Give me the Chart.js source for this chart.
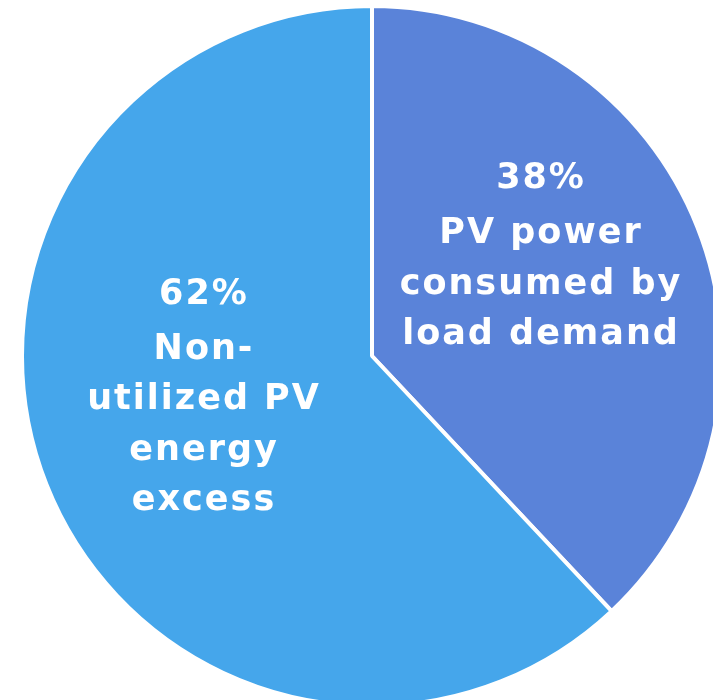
<!DOCTYPE html>
<html>
<head>
<meta charset="utf-8">
<title>PV energy share</title>
<script src="https://cdn.jsdelivr.net/npm/chart.js@4.4.1/dist/chart.umd.min.js"></script>
<style>
  html, body { margin: 0; padding: 0; background: #fff; overflow: hidden; }
  #wrap { position: absolute; left: 0; top: 0; width: 744px; height: 712px; }
</style>
</head>
<body>
<div id="wrap"><canvas id="chartPV"></canvas></div>
<script>
// share of PV energy
const shares = [38, 62];
const shareLabels = [
  ["PV power", "consumed by", "load demand"],
  ["Non-", "utilized PV", "energy", "excess"]
];
const sliceColors = ["#5A83D9", "#45A6EB"];

// writes the percentage + caption inside each slice
const sliceText = {
  id: "sliceText",
  afterDatasetsDraw(chart, args, opts) {
    const ctx = chart.ctx;
    const arcs = chart.getDatasetMeta(0).data;
    ctx.save();
    ctx.fillStyle = opts.color;
    ctx.font = opts.font;
    if ("letterSpacing" in ctx) ctx.letterSpacing = opts.letterSpacing;
    ctx.textAlign = "center";
    ctx.textBaseline = "alphabetic";
    arcs.forEach((arc, i) => {
      const lines = [shares[i] + "%"].concat(shareLabels[i]);
      const r = arc.outerRadius;
      const cx = arc.x + opts.anchors[i][0] * r;
      const cy = arc.y + opts.anchors[i][1] * r;
      const span = opts.firstGap + (lines.length - 2) * opts.lineHeight;
      let y = cy - span / 2;
      lines.forEach((line, j) => {
        ctx.fillText(line, cx, y);
        y += j === 0 ? opts.firstGap : opts.lineHeight;
      });
    });
    ctx.restore();
  }
};

new Chart(document.getElementById("chartPV"), {
  type: "pie",
  data: {
    labels: shareLabels.map((l) => l.join(" ")),
    datasets: [{
      data: shares,
      backgroundColor: sliceColors,
      borderColor: "#ffffff",
      borderWidth: 4
    }]
  },
  options: {
    responsive: true,
    maintainAspectRatio: false,
    animation: false,
    layout: { padding: 4 },
    plugins: {
      legend: { display: false },
      tooltip: { enabled: false },
      sliceText: {
        color: "#ffffff",
        font: "bold 35px 'DejaVu Sans'",
        letterSpacing: "2px",
        lineHeight: 50.5,
        firstGap: 55,
        anchors: [[0.483, -0.257], [-0.48, 0.145]]
      }
    }
  },
  plugins: [sliceText]
});
</script>
</body>
</html>
